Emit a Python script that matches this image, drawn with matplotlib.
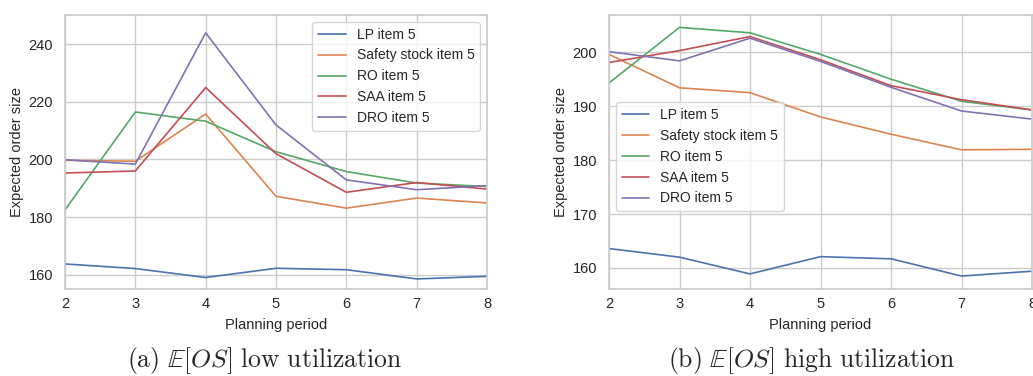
import matplotlib
matplotlib.use("Agg")
import matplotlib.pyplot as plt
import seaborn as sns

# --------------------
# Data
# --------------------
periods = [2, 3, 4, 5, 6, 7, 8]
labels = ["LP item 5", "Safety stock item 5", "RO item 5", "SAA item 5", "DRO item 5"]

# (a) low utilization
lp_low = [163.7, 162.1, 159.0, 162.2, 161.7, 158.5, 159.4]
ss_low = [199.7, 199.4, 215.8, 187.2, 183.1, 186.6, 184.9]
ro_low = [182.5, 216.5, 213.3, 202.7, 195.8, 191.8, 190.6]
saa_low = [195.3, 196.0, 225.0, 202.0, 188.6, 192.0, 189.7]
dro_low = [199.9, 198.4, 244.0, 212.0, 192.9, 189.5, 190.9]

# (b) high utilization
lp_high = [163.6, 162.0, 158.9, 162.1, 161.7, 158.5, 159.4]
ss_high = [199.6, 193.4, 192.5, 188.0, 184.8, 181.9, 182.0]
ro_high = [194.3, 204.6, 203.6, 199.6, 195.0, 190.9, 189.3]
saa_high = [198.1, 200.3, 202.9, 198.6, 193.8, 191.2, 189.3]
dro_high = [200.1, 198.4, 202.6, 198.3, 193.5, 189.1, 187.6]

captions = [r"$\mathrm{(a)\ }\mathbb{E}[OS]\mathrm{\ low\ utilization}$",
            r"$\mathrm{(b)\ }\mathbb{E}[OS]\mathrm{\ high\ utilization}$"]

sns.set_theme(style="whitegrid", palette="deep")
plt.rcParams["font.family"] = ["Liberation Sans", "DejaVu Sans"]
plt.rcParams["mathtext.fontset"] = "cm"

fig = plt.figure(figsize=(10.33, 3.76), dpi=100)
W, H = 1033, 376
ax1 = fig.add_axes([65 / W, (H - 289) / H, 422 / W, 274 / H])
ax2 = fig.add_axes([609 / W, (H - 289) / H, 423 / W, 274 / H])

for ax, series in [(ax1, [lp_low, ss_low, ro_low, saa_low, dro_low]),
                   (ax2, [lp_high, ss_high, ro_high, saa_high, dro_high])]:
    for vals, lab in zip(series, labels):
        ax.plot(periods, vals, label=lab, linewidth=1.2)
    ax.set_xlim(2, 8)
    ax.set_xticks(periods)
    ax.set_xlabel("Planning period", fontsize=10.5, labelpad=5)
    ax.set_ylabel("Expected order size", fontsize=10.5, labelpad=3)
    ax.tick_params(axis="x", labelsize=10.5, length=0, pad=6)
    ax.tick_params(axis="y", labelsize=10.5, length=0, pad=8.5)

ax1.set_ylim(155, 250.2)
ax1.set_yticks([160, 180, 200, 220, 240])
ax2.set_ylim(156.1, 206.9)
ax2.set_yticks([160, 170, 180, 190, 200])

ax1.legend(loc="upper right", fontsize=10)
ax2.legend(loc="upper left", bbox_to_anchor=(0.0165, 0.682), borderaxespad=0, fontsize=10)

fig.text(264.5 / W, 1 - 361 / H, captions[0], ha="center", va="center", fontsize=18.5)
fig.text(811.5 / W, 1 - 361 / H, captions[1], ha="center", va="center", fontsize=18.5)

fig.savefig("out.png", dpi=100)
